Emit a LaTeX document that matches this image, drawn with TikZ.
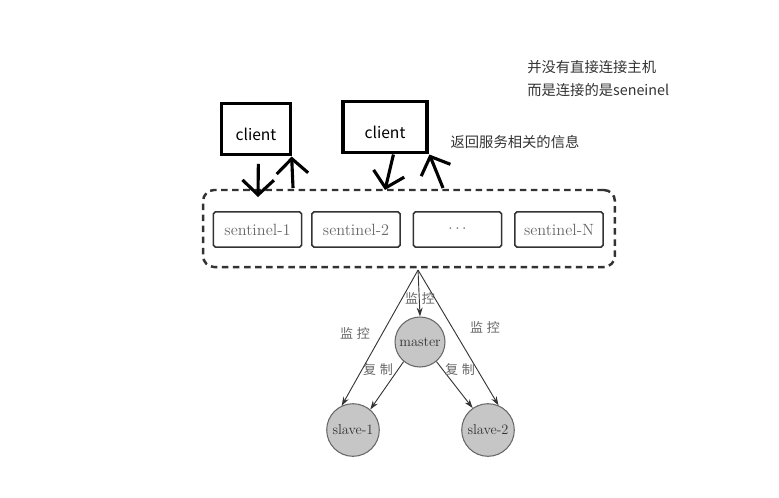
\documentclass[tikz,border=0pt]{standalone}
\usepackage{fontspec}
\newfontfamily\cjk{Noto Sans CJK SC}
\usetikzlibrary{arrows.meta}

\definecolor{inkgray}{HTML}{333333}
\definecolor{textgray}{HTML}{666666}
\definecolor{nodegray}{HTML}{C6C6C6}

\begin{document}
\begin{tikzpicture}[scale=0.27]
            \tikzstyle{every node}+=[inner sep=0pt]
            \tikzstyle{clientbox}=[draw=black, line width=2.4pt, text height=1.0cm, text depth=0.4cm, font=\fontsize{12}{14}\cjk]
            \tikzstyle{sentbox}=[draw=inkgray, line width=1.2pt, rounded corners=1.5pt, minimum width=2.38cm, minimum height=0.95cm, text=textgray, font=\fontsize{12.5}{15}\selectfont]
            \tikzstyle{redis}=[circle, draw=textgray, line width=0.8pt, fill=nodegray, text=inkgray, font=\fontsize{11}{13}\selectfont]
            \tikzstyle{handarrow}=[line width=2.4pt, -{Straight Barb[length=4mm, width=8.5mm, line width=2.4pt]}]
            \tikzstyle{thinarrow}=[inkgray, line width=0.7pt, -{Stealth[length=2.4mm, width=1.6mm]}]
            \tikzstyle{tag}=[text=textgray, font=\fontsize{10}{12}\cjk]
            \useasboundingbox (0,0) rectangle (77.9,-49.7);
            \node [clientbox, minimum width=1.84cm] (client1) at (25.6,-12.9) {client\hspace{0.12cm}};
            \node [clientbox, minimum width=2.27cm] (client2) at (38.5,-12.7) {client\hspace{0.2cm}};
            \node [font=\fontsize{11}{13}\cjk, text=black!80] (info) at (51.5,-14.2) {返回服务相关的信息};
            \node [font=\fontsize{11}{13}\cjk, text=black!80, anchor=west] (note1) at (52.7,-6.7) {并没有直接连接主机};
            \node [font=\fontsize{11}{13}\cjk, text=black!80, anchor=west] (note2) at (52.7,-9.0) {而是连接的是seneinel};
            \node [draw=inkgray, line width=1.9pt, dash pattern=on 5pt off 3.5pt, rounded corners=0.3cm, minimum width=11.12cm, minimum height=2.08cm] (group) at (40.9,-22.85) {};
            \node [sentbox] (sent1) at (25.75,-22.95) {sentinel-1};
            \node [sentbox] (sent2) at (35.6,-22.95) {sentinel-2};
            \node [sentbox] (sentdots) at (45.75,-22.95) {$\cdots$};
            \node [sentbox] (sentN) at (55.9,-22.95) {sentinel-N};
            \coordinate (c1in) at (25.8,-19.7);
            \coordinate (c1out) at (29.3,-18.8);
            \coordinate (c2in) at (38.5,-19.0);
            \coordinate (c2out) at (44.3,-18.8);
            \draw [handarrow, shorten <=0.2cm] (client1.-85) -- (c1in);
            \draw [handarrow] (c1out) -- (client1.south east);
            \draw [handarrow] (client2.-73) -- (c2in);
            \draw [handarrow] (c2out) -- ([xshift=0.08cm]client2.south east);
            \coordinate (apex) at (41.8,-27.0);
            \node [redis, minimum size=1.35cm] (master) at (42.0,-34.2) {master};
            \node [redis, minimum size=1.42cm] (slave1) at (35.3,-43.0) {slave-1};
            \node [redis, minimum size=1.42cm] (slave2) at (48.8,-43.0) {slave-2};
            \draw [thinarrow] (apex) -- (master.north);
            \draw [thinarrow] (apex) -- (slave1.115);
            \draw [thinarrow] (apex) -- (slave2.67);
            \draw [thinarrow] (master.230) -- (slave1.50);
            \draw [thinarrow] (master.-50) -- (slave2.125);
            \node [tag] (mon1) at (42.0,-29.8) {监\hspace{0.1cm}控};
            \node [tag] (mon2) at (35.5,-33.3) {监\hspace{0.1cm}控};
            \node [tag] (mon3) at (48.5,-32.7) {监\hspace{0.1cm}控};
            \node [tag] (copy1) at (37.8,-37.0) {复\hspace{0.1cm}制};
            \node [tag] (copy2) at (46.0,-37.0) {复\hspace{0.1cm}制};
        \end{tikzpicture}
\end{document}
